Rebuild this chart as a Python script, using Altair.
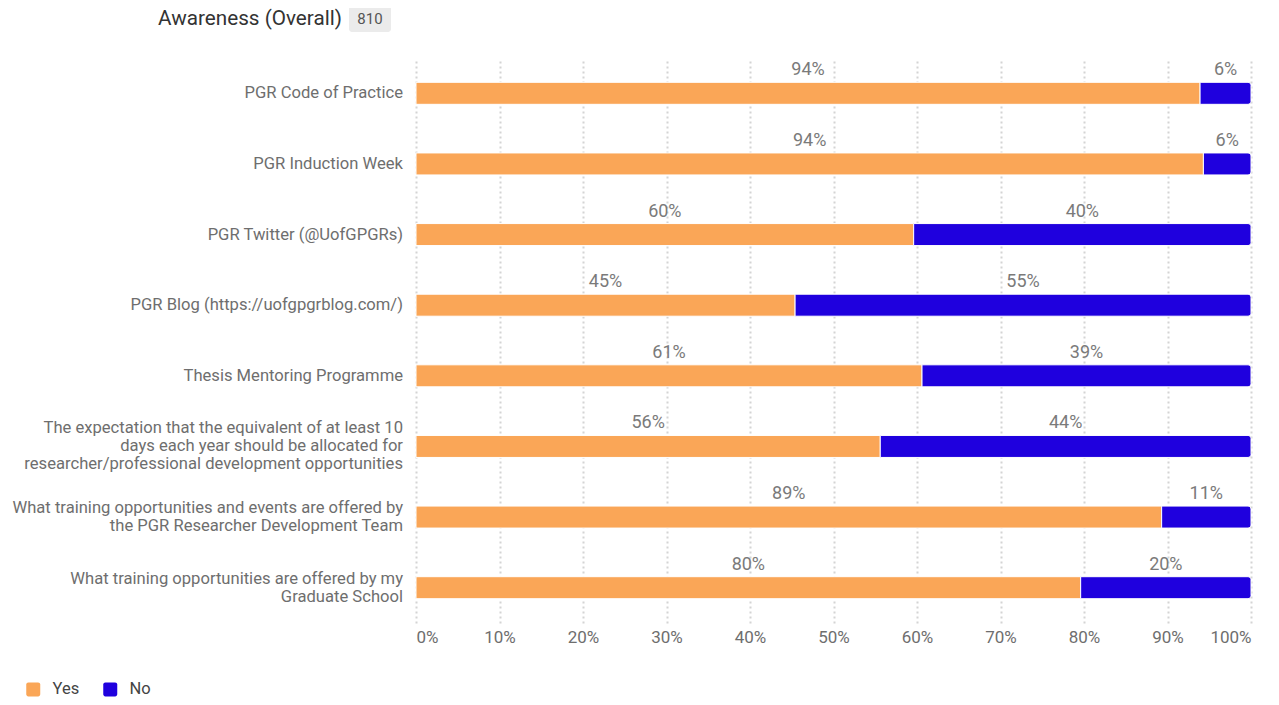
import altair as alt
import pandas as pd

categories = [
    "PGR Code of Practice",
    "PGR Induction Week",
    "PGR Twitter (@UofGPGRs)",
    "PGR Blog (https://uofgpgrblog.com/)",
    "Thesis Mentoring Programme",
    "The expectation that the equivalent of at least 10|days each year should be allocated for|researcher/professional development opportunities",
    "What training opportunities and events are offered by|the PGR Researcher Development Team",
    "What training opportunities are offered by my|Graduate School",
]
yes_pct = [93.9, 94.3, 59.6, 45.4, 60.6, 55.6, 89.3, 79.6]
no_pct = [6.1, 5.7, 40.4, 54.6, 39.4, 44.4, 10.7, 20.4]
responses = ["Yes", "No"]
colors = ["#FAA657", "#1F00DE"]
chart_title = ["Awareness (Overall)"]
total_n = [810]
x_ticks = [0, 10, 20, 30, 40, 50, 60, 70, 80, 90, 100]

rows = []
for c, y, n in zip(categories, yes_pct, no_pct):
    rows.append({"category": c, "response": "Yes", "pct": y, "order": 0})
    rows.append({"category": c, "response": "No", "pct": n, "order": 1})
df = pd.DataFrame(rows)
cat_df = pd.DataFrame({"category": categories})

FONT = "Roboto"
LABEL_GREY = "#6e6e6e"
LINE_H = 18

color_enc = alt.Color(
    "response:N",
    scale=alt.Scale(domain=responses, range=colors),
    legend=alt.Legend(
        title=None,
        orient="none",
        legendX=-391,
        legendY=623,
        direction="horizontal",
        symbolType="M -0.7 -1 H 0.7 A 0.3 0.3 0 0 1 1 -0.7 V 0.7 A 0.3 0.3 0 0 1 0.7 1 H -0.7 A 0.3 0.3 0 0 1 -1 0.7 V -0.7 A 0.3 0.3 0 0 1 -0.7 -1 Z",
        symbolSize=196,
        symbolStrokeWidth=0,
        labelFontSize=16.5,
        labelColor="#444",
        labelFont=FONT,
        labelOffset=11,
        columnPadding=22,
        padding=0,
    ),
)

y_enc = alt.Y(
    "category:N",
    sort=categories,
    scale=alt.Scale(paddingInner=0, paddingOuter=0),
    axis=alt.Axis(
        title=None, labels=False, ticks=False, domain=False, grid=False
    ),
)

x_axis = alt.Axis(
    title=None,
    values=x_ticks,
    labelExpr="datum.value + '%'",
    grid=True,
    gridDash=[2, 3],
    gridColor="#d4d4d4",
    gridWidth=2,
    domain=False,
    ticks=False,
    labelPadding=6,
    labelFontSize=17,
    labelColor=LABEL_GREY,
    labelFont=FONT,
)

base = alt.Chart(df).transform_stack(
    stack="pct",
    as_=["x0", "x1"],
    groupby=["category"],
    sort=[alt.SortField("order", order="ascending")],
)

bars_yes = base.transform_filter("datum.response == 'Yes'").mark_bar(
    size=22, stroke="white", strokeWidth=1
).encode(
    x=alt.X("x0:Q", scale=alt.Scale(domain=[0, 100], nice=False), axis=x_axis),
    x2="x1:Q",
    y=y_enc,
    color=color_enc,
)

bars_no = base.transform_filter("datum.response == 'No'").mark_bar(
    size=22, stroke="white", strokeWidth=1,
    cornerRadiusTopRight=3, cornerRadiusBottomRight=3,
).encode(
    x=alt.X("x0:Q"),
    x2="x1:Q",
    y=y_enc,
    color=color_enc,
)

labels = base.transform_calculate(
    mid="(datum.x0 + datum.x1) / 2",
    lab="format(datum.pct, '.0f') + '%'",
).mark_text(dy=-23, fontSize=18, color="#7a7a7a", font=FONT).encode(
    x="mid:Q",
    y=y_enc,
    text="lab:N",
)

# category labels, one layer per line count so each block is centred on its bar
cat_layers = []
for nl in [1, 2, 3]:
    cat_layers.append(
        alt.Chart(cat_df)
        .transform_calculate(nlines="length(split(datum.category, '|'))")
        .transform_filter(f"datum.nlines == {nl}")
        .mark_text(
            align="right", baseline="middle", fontSize=16.6, color=LABEL_GREY,
            font=FONT, lineBreak="|", lineHeight=LINE_H, dx=-13,
            dy=-(nl - 1) * LINE_H / 2,
        )
        .encode(x=alt.value(0), y=y_enc, text="category:N")
    )

title_df = pd.DataFrame({"t": chart_title})
title_txt = alt.Chart(title_df).mark_text(
    fontSize=20.7, color="#333", font=FONT, align="left", baseline="middle"
).encode(x=alt.value(-258), y=alt.value(-39), text="t:N")

badge_df = pd.DataFrame({"n": total_n})
badge_bg = alt.Chart(badge_df).mark_rect(color="#ebebeb", cornerRadius=3).encode(
    x=alt.value(-67), x2=alt.value(-25), y=alt.value(-52), y2=alt.value(-26)
)
badge_txt = alt.Chart(badge_df).mark_text(
    fontSize=15, color="#555", font=FONT, baseline="middle"
).encode(x=alt.value(-46), y=alt.value(-39), text="n:Q")

chart = alt.layer(
    bars_yes, bars_no, labels, *cat_layers, title_txt, badge_bg, badge_txt
).properties(
    width=835,
    height=565,
    autosize=alt.AutoSizeParams(type="none"),
    padding={"left": 408, "top": 50, "right": 20, "bottom": 74},
).configure_view(stroke=None)

chart.save("out.html", embed_options={"renderer": "svg", "actions": False})
